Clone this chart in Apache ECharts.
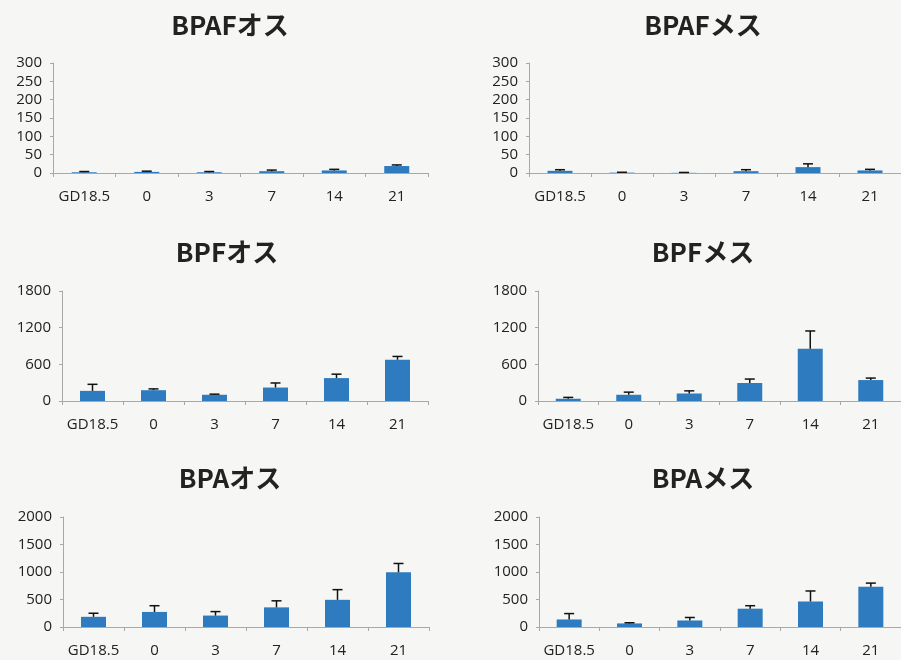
<!DOCTYPE html>
<html>
<head>
<meta charset="utf-8">
<script src="https://cdn.jsdelivr.net/npm/echarts@6/dist/echarts.min.js"></script>
<style>
html,body{margin:0;padding:0;background:#f6f6f4;}
#c{width:901px;height:660px;}
</style>
</head>
<body>
<div id="c"></div>
<script>
// ---- data ----
const categories = ['GD18.5', '0', '3', '7', '14', '21'];

const titles = ['BPAFオス', 'BPAFメス', 'BPFオス', 'BPFメス', 'BPAオス', 'BPAメス'];

const bpafMaleMean = [2, 3, 2, 5, 7, 19];
const bpafMaleErr = [2, 2, 2, 3, 3, 3];
const bpafFemaleMean = [6, 1, 0.5, 5, 16, 7];
const bpafFemaleErr = [3, 1, 1, 4, 9, 3];

const bpfMaleMean = [166, 177, 102, 220, 375, 675];
const bpfMaleErr = [107, 21, 10, 75, 64, 54];
const bpfFemaleMean = [37, 102, 123, 295, 857, 343];
const bpfFemaleErr = [22, 43, 43, 64, 289, 32];

const bpaMaleMean = [185, 274, 208, 357, 494, 994];
const bpaMaleErr = [65, 113, 72, 119, 185, 161];
const bpaFemaleMean = [137, 65, 119, 333, 464, 732];
const bpaFemaleErr = [107, 12, 54, 54, 191, 66];

const yMax = [300, 300, 1800, 1800, 2000, 2000];
const yInterval = [50, 50, 600, 600, 500, 500];

const means = [bpafMaleMean, bpafFemaleMean, bpfMaleMean, bpfFemaleMean, bpaMaleMean, bpaFemaleMean];
const errs = [bpafMaleErr, bpafFemaleErr, bpfMaleErr, bpfFemaleErr, bpaMaleErr, bpaFemaleErr];

// ---- layout ----
const grids = [
  {left: 53, top: 63, width: 375, height: 110},
  {left: 529, top: 63, width: 372, height: 110},
  {left: 62, top: 291, width: 366, height: 110},
  {left: 538, top: 291, width: 363, height: 110},
  {left: 63, top: 517, width: 366, height: 110},
  {left: 539, top: 517, width: 362, height: 110}
];
const titlePos = [
  {x: 225, y: 7}, {x: 698, y: 7},
  {x: 222, y: 234}, {x: 698, y: 234},
  {x: 225, y: 460}, {x: 698, y: 460}
];

const axisColor = '#a8a8a8';
const labelFont = '"Open Sans", "DejaVu Sans", sans-serif';
const barColor = '#2f7bc0';

const option = {
  backgroundColor: '#f6f6f4',
  animation: false,
  title: titles.map((t, i) => ({
    text: t,
    left: titlePos[i].x,
    top: titlePos[i].y,
    textAlign: 'center',
    textStyle: {
      fontFamily: '"Noto Sans CJK JP", sans-serif',
      fontWeight: 'bold',
      fontSize: 26,
      color: '#222'
    }
  })),
  grid: grids,
  xAxis: grids.map((g, i) => ({
    type: 'category',
    gridIndex: i,
    data: categories,
    boundaryGap: true,
    axisLine: {lineStyle: {color: axisColor, width: 1}},
    axisTick: {show: true, length: 4, lineStyle: {color: axisColor}},
    axisLabel: {color: '#222', fontSize: 15, fontFamily: labelFont, margin: 16, interval: 0},
    splitLine: {show: false}
  })),
  yAxis: grids.map((g, i) => ({
    type: 'value',
    gridIndex: i,
    min: 0,
    max: yMax[i],
    interval: yInterval[i],
    axisLine: {show: true, lineStyle: {color: axisColor, width: 1}},
    axisTick: {show: true, length: 3, lineStyle: {color: axisColor}},
    axisLabel: {color: '#222', fontSize: 15, fontFamily: labelFont, margin: 11,
      formatter: v => String(v)},
    splitLine: {show: false}
  })),
  series: []
};

means.forEach((m, i) => {
  option.series.push({
    type: 'bar',
    xAxisIndex: i,
    yAxisIndex: i,
    data: m,
    barWidth: 25,
    itemStyle: {color: barColor},
    z: 2
  });
  option.series.push({
    type: 'custom',
    xAxisIndex: i,
    yAxisIndex: i,
    z: 3,
    data: m.map((v, k) => [k, v, errs[i][k]]),
    renderItem: function (params, api) {
      const x = api.value(0), y = api.value(1), e = api.value(2);
      const p0 = api.coord([x, y]);
      const p1 = api.coord([x, y + e]);
      const st = {stroke: '#111', lineWidth: 1.5};
      return {
        type: 'group',
        children: [
          {type: 'line', shape: {x1: p0[0], y1: p0[1], x2: p1[0], y2: p1[1]}, style: st},
          {type: 'line', shape: {x1: p1[0] - 5, y1: p1[1], x2: p1[0] + 5, y2: p1[1]}, style: st}
        ]
      };
    }
  });
});

const chart = echarts.init(document.getElementById('c'), null, {renderer: 'canvas'});
chart.setOption(option);
</script>
</body>
</html>
